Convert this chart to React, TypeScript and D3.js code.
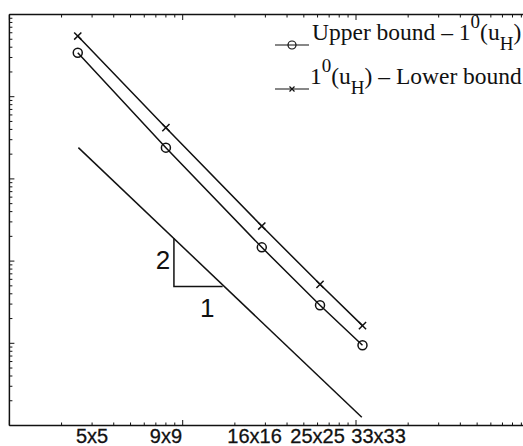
import React from 'react';
import * as d3 from 'd3';

// Mesh sizes and their positions along the (log) abscissa
const gridLabels = ['5x5', '9x9', '16x16', '25x25', '33x33'];
const gridSizes = [2.48, 8.0, 28.6, 62, 109];
const labelAt = [3, 8, 26, 60, 135];

// Error bounds for each mesh
const upperGap = [0.343, 0.024, 1.47e-3, 2.9e-4, 9.46e-5];
const lowerGap = [0.547, 0.042, 2.67e-3, 5.22e-4, 1.64e-4];

// Slope-2 reference line and its triangle
const slopeRefX = [2.5, 108];
const slopeRefY = [0.024, 1.26e-5];
const triangleX = [8.9, 17];
const triangleY = [1.9e-3, 4.9e-4];

const W = 523;
const H = 446;

export default function App() {
  const x = d3.scaleLog().domain([1, 1000]).range([9.4, 529.3]);
  const y = d3.scaleLog().domain([1e-5, 1]).range([425.5, 14.5]);
  const line = d3
    .line<[number, number]>()
    .x((d) => x(d[0]))
    .y((d) => y(d[1]));

  const xTicks = x.ticks().filter((v) => x(v) <= W + 8);
  const yTicks = y.ticks();
  const isMajor = (v: number) => Math.abs(Math.log10(v) - Math.round(Math.log10(v))) < 1e-9;

  const top = y(1);
  const bottom = y(1e-5);
  const left = x(1);
  const right = x(1000);

  const upperPts = gridSizes.map((g, i) => [g, upperGap[i]] as [number, number]);
  const lowerPts = gridSizes.map((g, i) => [g, lowerGap[i]] as [number, number]);
  const refPts = slopeRefX.map((g, i) => [g, slopeRefY[i]] as [number, number]);

  const stroke = '#111';
  const crossPath = (cx: number, cy: number, s: number) =>
    `M${cx - s},${cy - s}L${cx + s},${cy + s}M${cx - s},${cy + s}L${cx + s},${cy - s}`;

  return (
    <svg
      width={W}
      height={H}
      style={{ position: 'absolute', left: 0, top: 0, background: '#fff' }}
    >
      {/* axes box */}
      <g stroke={stroke} strokeWidth={1.5} fill="none">
        <line x1={left} y1={top} x2={right} y2={top} />
        <line x1={left} y1={bottom} x2={right} y2={bottom} />
        <line x1={left} y1={top} x2={left} y2={bottom} />
        <line x1={right} y1={top} x2={right} y2={bottom} />
      </g>

      {/* x ticks (bottom and top) */}
      <g stroke={stroke} strokeWidth={1}>
        {xTicks.map((v, i) => {
          const len = isMajor(v) ? 5.5 : 3;
          const px = x(v);
          return (
            <g key={i}>
              <line x1={px} x2={px} y1={bottom} y2={bottom - len} />
              <line x1={px} x2={px} y1={top} y2={top + len} />
            </g>
          );
        })}
      </g>

      {/* y ticks */}
      <g stroke={stroke} strokeWidth={1}>
        {yTicks.map((v, i) => {
          const len = isMajor(v) ? 5 : 3;
          const py = y(v);
          return (
            <g key={i}>
              <line x1={left} x2={left + len} y1={py} y2={py} />
              <line x1={right} x2={right - len} y1={py} y2={py} />
            </g>
          );
        })}
      </g>

      {/* mesh labels */}
      <g
        fontFamily="'Liberation Sans', Arial, sans-serif"
        fontSize={20}
        fill="#111"
        stroke="#111"
        strokeWidth={0.3}
        textAnchor="middle"
      >
        {gridLabels.map((lab, i) => (
          <text key={lab} x={x(labelAt[i])} y={443.3}>
            {lab}
          </text>
        ))}
      </g>

      {/* series */}
      <g fill="none" stroke={stroke} strokeWidth={1.5}>
        <path d={line(upperPts) || ''} />
        <path d={line(lowerPts) || ''} />
        <path d={line(refPts) || ''} />
        {upperPts.map((p, i) => (
          <circle key={i} cx={x(p[0])} cy={y(p[1])} r={4.5} />
        ))}
        {lowerPts.map((p, i) => (
          <path key={i} d={crossPath(x(p[0]), y(p[1]), 3.6)} />
        ))}
        {/* slope triangle */}
        <polyline
          points={`${x(triangleX[0])},${y(triangleY[0])} ${x(triangleX[0])},${y(triangleY[1])} ${x(triangleX[1])},${y(triangleY[1])}`}
        />
      </g>

      <g fontFamily="'Liberation Sans', Arial, sans-serif" fontSize={26} fill="#111" textAnchor="middle">
        <text x={x(triangleX[0]) - 11} y={269}>2</text>
        <text x={(x(triangleX[0]) + x(triangleX[1])) / 2 + 9} y={317}>1</text>
      </g>

      {/* legend */}
      <g stroke={stroke} strokeWidth={1.2} fill="none">
        <line x1={275} x2={309} y1={45} y2={45} />
        <circle cx={292} cy={45} r={4} />
        <line x1={275} x2={309} y1={89} y2={89} />
        <path d={crossPath(292, 89, 2.5)} />
      </g>
      <g fontFamily="'Liberation Serif', 'Times New Roman', serif" fontSize={23.5} fill="#111">
        <text x={312} y={39.5}>
          Upper bound – 1
          <tspan fontSize={19} dy={-12}>0</tspan>
          <tspan dy={12}>(u</tspan>
          <tspan fontSize={19} dy={10}>H</tspan>
          <tspan dy={-10}>)</tspan>
        </text>
        <text x={310} y={84}>
          1
          <tspan fontSize={19} dy={-12}>0</tspan>
          <tspan dy={12}>(u</tspan>
          <tspan fontSize={19} dy={10}>H</tspan>
          <tspan dy={-10}>) – Lower bound</tspan>
        </text>
      </g>
    </svg>
  );
}
